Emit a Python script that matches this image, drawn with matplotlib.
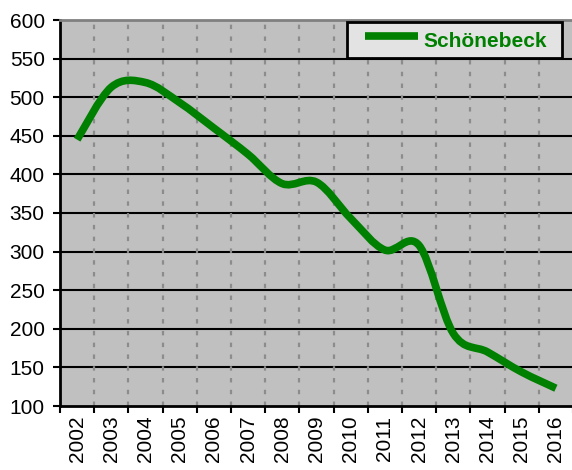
import numpy as np
import matplotlib.pyplot as plt
from matplotlib.path import Path
from matplotlib.patches import PathPatch, Rectangle
from matplotlib.lines import Line2D

plt.rcParams['font.family'] = ['Liberation Sans', 'DejaVu Sans']

# Datos
years = ['2002', '2003', '2004', '2005', '2006', '2007', '2008', '2009',
         '2010', '2011', '2012', '2013', '2014', '2015', '2016']
values = [445, 513, 519, 493, 460, 426, 388, 390, 343, 302, 308, 194, 170, 144, 123]
series_name = 'Schönebeck'
y_ticks = list(range(100, 601, 50))

GREEN = '#008000'
W, H = 572, 470  # tamaño en pixeles


def smooth_path(xs, ys):
    """Curva suavizada tipo Excel (Bezier por Catmull-Rom) que pasa por los puntos."""
    pts = np.column_stack([xs, ys]).astype(float)
    n = len(pts)
    verts = [pts[0]]
    codes = [Path.MOVETO]
    for i in range(n - 1):
        p0 = pts[i - 1] if i > 0 else pts[i]
        p1 = pts[i]
        p2 = pts[i + 1]
        p3 = pts[i + 2] if i + 2 < n else pts[i + 1]
        c1 = p1 + (p2 - p0) / 6.0
        c2 = p2 - (p3 - p1) / 6.0
        verts += [c1, c2, p2]
        codes += [Path.CURVE4] * 3
    return Path(verts, codes)


fig = plt.figure(figsize=(W / 100, H / 100), dpi=100)
ax = fig.add_axes([60 / W, 64 / H, 513 / W, 386 / H])
ax.set_facecolor('#c0c0c0')

x = np.arange(len(years))
ax.set_xlim(-0.5, len(years) - 0.5)
ax.set_ylim(100, 600)

# lineas horizontales negras
for v in y_ticks[1:-1]:
    ax.axhline(v, color='black', linewidth=1.5, zorder=1)
# lineas verticales discontinuas entre categorias
for b in np.arange(0.5, len(years) - 0.5):
    ax.axvline(b, color='#8c8c8c', linewidth=1.6, linestyle=(0, (2.0, 3.3)), zorder=1)

patch = PathPatch(smooth_path(x, values), facecolor='none', edgecolor=GREEN,
                  linewidth=5.5, capstyle='butt', joinstyle='round', zorder=3)
ax.add_patch(patch)

# ejes
ax.set_yticks(y_ticks)
ax.tick_params(axis='y', direction='out', length=5, width=1.5, pad=6, labelsize=15)
ax.set_xticks(np.arange(-0.5, len(years)), labels=[''] * (len(years) + 1))
ax.set_xticks(x, labels=years, minor=True)
ax.tick_params(axis='x', which='major', direction='out', length=5, width=1.5)
ax.tick_params(axis='x', which='minor', length=0, pad=7, labelsize=15, labelrotation=90)

for s in ['left', 'bottom']:
    ax.spines[s].set_color('black')
    ax.spines[s].set_linewidth(2)
ax.spines['top'].set_color('#808080')
ax.spines['top'].set_linewidth(2)
ax.spines['right'].set_color('#808080')

# leyenda al estilo Excel (caja, muestra de linea y texto)
ax.add_patch(Rectangle((347 / W, 1 - 58 / H), 215 / W, 36 / H, transform=fig.transFigure,
                       facecolor='#e3e3e3', edgecolor='black', linewidth=2,
                       clip_on=False, zorder=5))
ax.add_line(Line2D([365 / W, 418 / W], [1 - 36 / H, 1 - 36 / H], transform=fig.transFigure,
                   color=GREEN, linewidth=5.5, solid_capstyle='butt', clip_on=False, zorder=6))
fig.text(423 / W, 1 - 47 / H, series_name, color=GREEN, fontsize=15, fontweight='bold',
         ha='left', va='baseline', zorder=6)

fig.savefig('out.png', dpi=100)
